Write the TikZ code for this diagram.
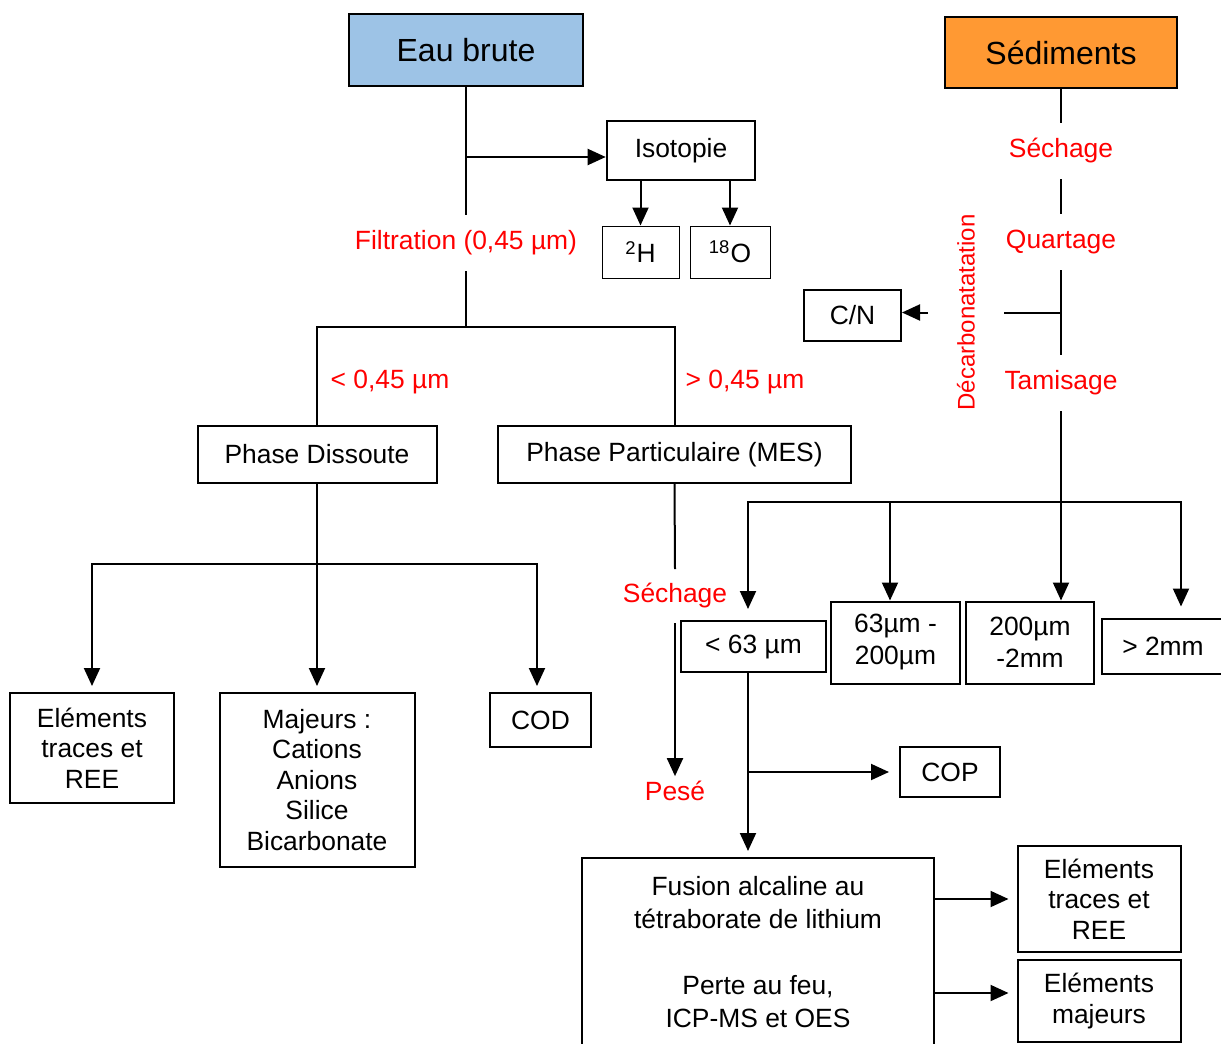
\documentclass[tikz,border=0pt]{standalone}
\usepackage{fontspec}
\setmainfont{Liberation Sans}
\usetikzlibrary{arrows.meta,positioning,calc}
\definecolor{waterblue}{RGB}{157,195,230}
\definecolor{sedorange}{RGB}{255,153,51}

\begin{document}
\begin{tikzpicture}[x=0.5pt, y=-0.5pt, line width=1pt, >={Triangle[length=9pt,width=8pt]},
	every node/.style={font=\fontsize{13.2}{15.25}\selectfont}]
	\tikzstyle{title} = [rectangle, draw=black, line width=1.3pt, inner sep=0pt,
	font=\fontsize{16}{19}\selectfont]
	\tikzstyle{box} = [rectangle, draw=black, line width=1pt, align=center, inner sep=0pt]
	\tikzstyle{thinbox} = [rectangle, draw=black, line width=0.5pt, inner sep=0pt]
	\tikzstyle{lbl} = [text=red, minimum height=27pt, inner sep=1pt]
	\useasboundingbox (0,0) rectangle (1221,1044);
	% raw water
	\node (eau) at (466,50) [title, fill=waterblue, minimum width=117pt, minimum height=36pt] {Eau brute};
	\node (iso) at (681,150.5) [box, line width=1.3pt, minimum width=74pt, minimum height=29.5pt] {Isotopie};
	\node (h2) at (640.5,252) [thinbox, minimum width=38.5pt, minimum height=26pt] {\textsuperscript{2}H};
	\node (o18) at (730,252) [thinbox, minimum width=40pt, minimum height=26pt] {\textsuperscript{18}O};
	\node (filt) at (466,243) [lbl] {Filtration (0,45 µm)};
	\coordinate (split) at (466,327);
	\coordinate (isoin) at ([yshift=-3.25pt]iso.west);
	\draw (eau.south) -- (filt.north);
	\draw (filt.south) -- (split);
	\draw[->] (isoin -| eau.south) -- (isoin);
	\draw[->] (iso.south -| h2.north) -- (h2.north);
	\draw[->] (iso.south -| o18.north) -- (o18.north);
	% phases
	\node (dissoute) at (317,454.5) [box, minimum width=119.5pt, minimum height=28.5pt] {Phase Dissoute};
	\node (mes) at (674.5,454.5) [box, minimum width=176.5pt, minimum height=28.5pt] {Phase Particulaire (MES)};
	\node (lt) at (390,382) [text=red] {< 0,45 µm};
	\node (gt) at (745,382) [text=red] {> 0,45 µm};
	\draw (split) -| (dissoute.north);
	\draw (split) -| (mes.north);
	% dissolved phase
	\coordinate (dsplit) at (317,564);
	\node (etr) at (92,748) [box, minimum width=82pt, minimum height=55pt] {Eléments\\traces et\\REE};
	\node (maj) at (317,780) [box, minimum width=97.5pt, minimum height=87pt] {Majeurs :\\Cations\\Anions\\Silice\\Bicarbonate};
	\node (cod) at (540.5,720) [box, minimum width=50.5pt, minimum height=27pt] {COD};
	\draw (dissoute.south) -- (dsplit);
	\draw[->, shorten >=3pt] (dsplit) -| (etr.north);
	\draw[->, shorten >=3pt] (dsplit) -- (maj.north);
	\draw[->, shorten >=3pt] (dsplit) -| ([xshift=-1.75pt]cod.north);
	% particulate phase
	\node (sech2) at (675,596) [lbl, minimum height=26pt] {Séchage};
	\node (pese) at (675,791) [text=red, inner sep=2pt] {Pesé};
	\draw (mes.south) -- (sech2.north);
	\draw[->] (sech2.south) -- (pese.north);
	% sediments
	\node (sed) at (1061,52.5) [title, fill=sedorange, minimum width=116pt, minimum height=35.5pt] {Sédiments};
	\node (sech1) at (1061,151) [lbl] {Séchage};
	\node (quart) at (1061,242) [lbl] {Quartage};
	\node (tam) at (1061,383) [lbl] {Tamisage};
	\coordinate (cnsplit) at ($(quart.south)!0.5!(tam.north)$);
	\node (cn) at (852.5,315.5) [box, minimum width=48.5pt, minimum height=25.5pt] {C/N};
	\node (decarb) at (966,312.5) [text=red, rotate=90, inner sep=0pt, minimum height=37pt,
		font=\fontsize{12}{14}\selectfont] {Décarbonatatation};
	\draw (sed.south) -- (sech1.north);
	\draw (sech1.south) -- (quart.north);
	\draw (quart.south) -- (tam.north);
	\draw (cnsplit) -- (decarb.south);
	\draw[->] (decarb.north) -- (decarb.north -| cn.east);
	% sieving
	\coordinate (sieve) at (1061,502);
	\node (f63) at (753.5,646.5) [box, minimum width=72.5pt, minimum height=25.5pt, text depth=2pt] {< 63 µm};
	\node (f200) at (895.5,642.5) [box, minimum width=64.5pt, minimum height=41pt,
		font=\fontsize{13.2}{16}\selectfont] {63µm -\\200µm};
	\node (f2mm) at (1030,642.5) [box, minimum width=64pt, minimum height=41pt,
		font=\fontsize{13.2}{16}\selectfont] {200µm\\-2mm};
	\node (fgt) at (1163,646) [box, minimum width=61pt, minimum height=27.5pt] {> 2mm};
	\draw[->] (tam.south) -- (tam.south |- f2mm.north);
	\draw[->, shorten >=5.5pt] (sieve) -| ([xshift=-2.75pt]f63.north);
	\draw[->] (sieve) -| ([xshift=-2.75pt]f200.north);
	\draw[->, shorten >=5.5pt] (sieve) -| ([xshift=9pt]fgt.north);
	% fine fraction
	\node (cop) at (950,772) [box, minimum width=50pt, minimum height=25pt] {COP};
	\node (fusion) at (758,952) [box, minimum width=176pt, minimum height=94pt,
		font=\fontsize{13.2}{16.5}\selectfont]
		{Fusion alcaline au\\tétraborate de lithium\\[16.5pt]Perte au feu,\\ICP-MS et OES};
	\node (etr2) at (1099,899) [box, minimum width=81.5pt, minimum height=53pt] {Eléments\\traces et\\REE};
	\node (emaj) at (1099,1001) [box, minimum width=81.5pt, minimum height=41pt] {Eléments\\majeurs};
	\coordinate (f63out) at ([xshift=-2.75pt]f63.south);
	\coordinate (majin) at ([yshift=4pt]emaj.west);
	\draw[->, shorten >=3pt] (f63out) -- (f63out |- fusion.north);
	\draw[->, shorten >=5pt] (f63out |- cop.west) -- (cop.west);
	\draw[->, shorten >=4pt] (fusion.east |- etr2.west) -- (etr2.west);
	\draw[->, shorten >=4pt] (fusion.east |- majin) -- (majin);
\end{tikzpicture}
\end{document}
